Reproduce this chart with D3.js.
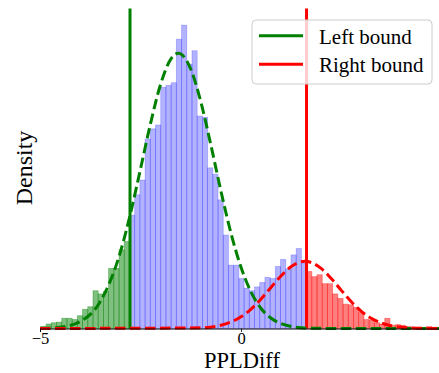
<!DOCTYPE html>
<html>
<head>
<meta charset="utf-8">
<script src="https://cdn.jsdelivr.net/npm/d3@7"></script>
<style>
  body { margin: 0; background: #fff; }
  svg text { font-family: "Liberation Serif", "DejaVu Serif", serif; fill: #000; }
</style>
</head>
<body>
<div id="chart"></div>
<script>
// histogram of PPLDiff, density per bin
const binStart = -4.978;
const binWidth = 0.1296;
const densities = [
  0.003, 0.007, 0.009, 0.010, 0.016, 0.016, 0.014, 0.020, 0.030, 0.034,
  0.059, 0.054, 0.058, 0.094, 0.094, 0.123, 0.136, 0.177, 0.209, 0.232,
  0.296, 0.312, 0.318, 0.377, 0.380, 0.384, 0.452, 0.474, 0.413, 0.434,
  0.332, 0.330, 0.251, 0.241, 0.201, 0.146, 0.099, 0.099, 0.078, 0.063,
  0.059, 0.065, 0.072, 0.080, 0.078, 0.097, 0.108, 0.093, 0.115, 0.125,
  0.102, 0.089, 0.081, 0.084, 0.070, 0.070, 0.054, 0.047, 0.038, 0.037,
  0.033, 0.025, 0.014, 0.013, 0.009, 0.007, 0.016, 0.005, 0.006, 0.005,
  0.003, 0.002, 0.002, 0.001, 0.003, 0.002, 0.002
];

const leftBound = -2.761;
const rightBound = 1.63;

// fitted component curves
const leftCurveX = [-5, -4.5, -4, -3.5, -3, -2.75, -2.5, -2.25, -2, -1.75, -1.56, -1.25, -1, -0.75, -0.5, -0.25, 0, 0.25, 0.5, 0.75, 1, 1.5, 2, 3, 4, 4.93];
const leftCurveY = [0.0003, 0.0021, 0.0109, 0.0421, 0.1196, 0.1795, 0.2493, 0.3205, 0.3816, 0.4205, 0.43, 0.4052, 0.3543, 0.2868, 0.2149, 0.149, 0.0958, 0.0569, 0.0313, 0.016, 0.0075, 0.0013, 0.0002, 0, 0, 0];
const rightCurveX = [-5, -1, -0.5, 0, 0.25, 0.5, 0.75, 1, 1.25, 1.59, 1.75, 2, 2.25, 2.5, 2.75, 3, 3.25, 3.5, 4, 4.5, 4.93];
const rightCurveY = [0, 0.001, 0.0051, 0.0182, 0.0303, 0.0462, 0.0645, 0.0825, 0.0969, 0.105, 0.1031, 0.0935, 0.0777, 0.0592, 0.0414, 0.0265, 0.0156, 0.0084, 0.0019, 0.0003, 0];

const xTicks = [-5, 0];
const legendLabels = ["Left bound", "Right bound"];

const width = 439, height = 373;
const plotLeft = 40, plotRight = 439, plotTop = 8.5, plotBottom = 328.5;

const svg = d3.select("#chart").append("svg")
    .attr("width", width)
    .attr("height", height);

const x = d3.scaleLinear().domain([-5, 4.925]).range([plotLeft, plotRight]);
const y = d3.scaleLinear().domain([0, 0.5]).range([plotBottom, plotTop]);

const bins = densities.map((d, i) => {
    let x0 = binStart + i * binWidth;
    let x1 = x0 + binWidth;
    let mid = (x0 + x1) / 2;
    let col = mid < leftBound ? "green" : (mid > rightBound ? "red" : "blue");
    return {x0: x0, x1: x1, d: d, col: col};
});
const alphaFor = {green: 0.5, blue: 0.3, red: 0.5};

svg.append("defs").append("clipPath").attr("id", "clip")
    .append("rect")
    .attr("x", plotLeft).attr("y", 0)
    .attr("width", plotRight - plotLeft).attr("height", plotBottom + 2);

const plot = svg.append("g").attr("clip-path", "url(#clip)");

plot.selectAll(".bar")
    .data(bins)
    .enter()
    .append("rect")
        .attr("class", "bar")
        .attr("x", d => x(d.x0))
        .attr("y", d => y(d.d))
        .attr("width", d => x(d.x1) - x(d.x0))
        .attr("height", d => y(0) - y(d.d))
        .attr("fill", d => d.col)
        .attr("fill-opacity", d => alphaFor[d.col])
        .attr("stroke", d => d.col)
        .attr("stroke-opacity", d => alphaFor[d.col] * 0.8)
        .attr("stroke-width", 0.8);

// x axis
const xAxis = svg.append("g")
    .attr("transform", `translate(0, ${plotBottom})`)
    .call(d3.axisBottom(x).tickValues(xTicks).tickSize(3.5).tickFormat(d => d < 0 ? "\u2212" + Math.abs(d) : d));
xAxis.select(".domain").attr("stroke", "#000").attr("stroke-width", 1);
xAxis.selectAll(".tick line").attr("stroke", "#000").attr("stroke-width", 0.8);
xAxis.selectAll(".tick text")
    .attr("y", 3.5)
    .attr("dy", "0.71em")
    .style("font-size", "16.5px");

// bound lines
plot.append("line")
    .attr("x1", x(leftBound)).attr("x2", x(leftBound))
    .attr("y1", plotTop).attr("y2", plotBottom)
    .attr("stroke", "green").attr("stroke-width", 3);
plot.append("line")
    .attr("x1", x(rightBound)).attr("x2", x(rightBound))
    .attr("y1", plotTop).attr("y2", plotBottom)
    .attr("stroke", "red").attr("stroke-width", 3);

const line = d3.line()
    .x(d => x(d[0]))
    .y(d => y(d[1]))
    .curve(d3.curveMonotoneX);

plot.append("path")
    .datum(d3.zip(leftCurveX, leftCurveY))
    .attr("fill", "none")
    .attr("stroke", "green")
    .attr("stroke-width", 3)
    .attr("stroke-dasharray", "10.5,4.5")
    .attr("d", line);
plot.append("path")
    .datum(d3.zip(rightCurveX, rightCurveY))
    .attr("fill", "none")
    .attr("stroke", "red")
    .attr("stroke-width", 3)
    .attr("stroke-dasharray", "10.5,4.5")
    .attr("d", line);

// legend
const legend = svg.append("g");
legend.append("rect")
    .attr("x", 252).attr("y", 20)
    .attr("width", 180).attr("height", 64)
    .attr("rx", 4)
    .attr("fill", "#fff").attr("fill-opacity", 0.8)
    .attr("stroke", "#cccccc").attr("stroke-width", 1);
const legendColors = ["green", "red"];
legendLabels.forEach((lab, i) => {
    let ly = 35.7 + i * 28.6;
    legend.append("line")
        .attr("x1", 259).attr("x2", 303)
        .attr("y1", ly).attr("y2", ly)
        .attr("stroke", legendColors[i]).attr("stroke-width", 3);
    legend.append("text")
        .attr("x", 319).attr("y", ly + 8)
        .style("font-size", "21px")
        .text(lab);
});

// axis titles
svg.append("text")
    .attr("x", 242).attr("y", 368)
    .attr("text-anchor", "middle")
    .style("font-size", "22.5px")
    .text("PPLDiff");
svg.append("text")
    .attr("transform", "translate(32, 168) rotate(-90)")
    .attr("text-anchor", "middle")
    .style("font-size", "24px")
    .text("Density");
</script>
</body>
</html>
